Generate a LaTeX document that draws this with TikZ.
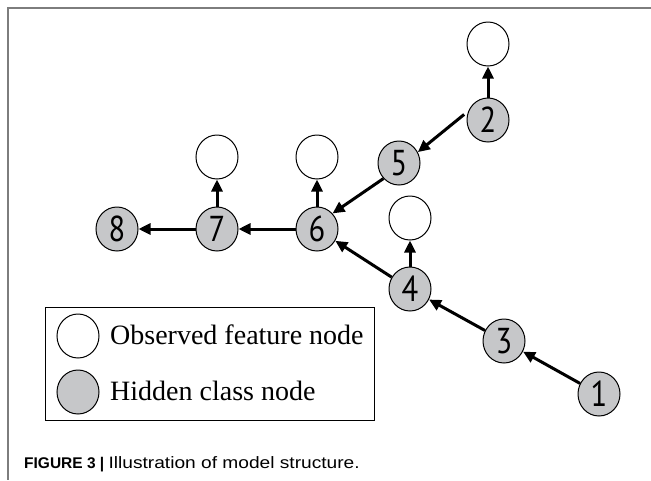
\documentclass[tikz,border=0pt]{standalone}
\usepackage{fontspec}
\usepackage{graphicx}
\setmainfont{Liberation Serif}
\newfontfamily\numfont{PT Sans}
\newfontfamily\capfont{Liberation Sans}
\usetikzlibrary{arrows.meta,shapes.geometric}
\definecolor{hidgray}{RGB}{198,199,201}
\definecolor{framegray}{RGB}{125,125,125}
\newcommand{\numtxt}[1]{\scalebox{0.85}[1]{\numfont\fontsize{36}{36}\selectfont #1}}
\tikzset{
  obsnode/.style={ellipse, draw, line width=1pt, minimum width=42pt, minimum height=44pt, inner sep=0pt, fill=white},
  hidnode/.style={obsnode, fill=hidgray},
  arr/.style={line width=3pt, -{Triangle[length=12pt,width=11pt]}},
  legtext/.style={anchor=west, inner sep=0pt, font=\fontsize{28}{28}\selectfont}
}
\begin{document}
\begin{tikzpicture}[x=1pt,y=-1pt]
\useasboundingbox (0,0) rectangle (651,480);
\draw[framegray, line width=1.5pt] (651,8) -- (8,8) -- (8,480);
% nodes
\node[obsnode] (o2) at (488,44) {};
\node[hidnode] (n2) at (488,120) {\numtxt{2}};
\node[hidnode] (n5) at (399,163) {\numtxt{5}};
\node[obsnode] (o7) at (217,157) {};
\node[obsnode] (o6) at (317,157) {};
\node[hidnode] (n8) at (117,229) {\numtxt{8}};
\node[hidnode] (n7) at (217,229) {\numtxt{7}};
\node[hidnode] (n6) at (317,229) {\numtxt{6}};
\node[obsnode] (o4) at (410,218) {};
\node[hidnode] (n4) at (410,289) {\numtxt{4}};
\node[hidnode] (n3) at (504,341) {\numtxt{3}};
\node[hidnode] (n1) at (599,394) {\numtxt{1}};
% arrows
\draw[arr] (n2) -- (o2);
\draw[arr] ([shift={(-3,0)}]n2.165) -- (n5.30);
\draw[arr] (n5.225) -- (n6.45);
\draw[arr] (n6) -- (o6);
\draw[arr] (n6) -- (n7);
\draw[arr] (n7) -- (o7);
\draw[arr] (n7) -- (n8);
\draw[arr] (n4) -- (o4);
\draw[arr] (n4) -- (n6);
\draw[arr] (n3) -- (n4);
\draw[arr] (n1) -- (n3);
% legend
\node[draw, line width=1pt, minimum width=329pt, minimum height=113pt, anchor=north west, inner sep=0pt] (legend) at (45,307) {};
\node[obsnode] (lo) at (78,336) {};
\node[obsnode, fill=hidgray] (lh) at (78,392) {};
\node[legtext] (lot) at (110,335) {Observed feature node};
\node[legtext] (lht) at (110,391) {Hidden class node};
% caption
\node[anchor=base west, inner sep=0pt] (cap) at (24,468) {\capfont\fontsize{15.5}{15.5}\selectfont\textbf{FIGURE 3 |} \scalebox{1.16}[1]{\fontsize{16.5}{16.5}\selectfont Illustration of model structure.}};
\end{tikzpicture}
\end{document}
